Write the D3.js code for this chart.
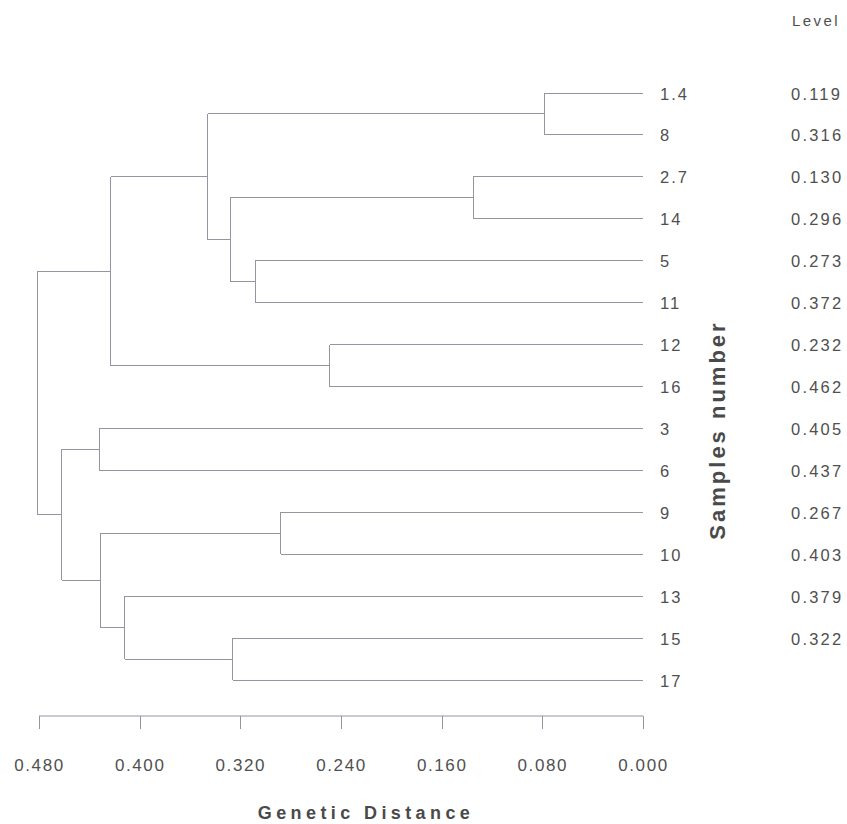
<!DOCTYPE html>
<html>
<head>
<meta charset="utf-8">
<script src="https://cdn.jsdelivr.net/npm/d3@7"></script>
<style>
  html, body { margin: 0; padding: 0; background: #fff; }
  svg { display: block; }
  text { font-family: "Liberation Sans", Arial, sans-serif; }
</style>
</head>
<body>
<script>
// ---------------- DATA ----------------
// Leaf order (top to bottom)
const leaves = ["1.4", "8", "2.7", "14", "5", "11", "12", "16", "3", "6", "9", "10", "13", "15", "17"];
// "Level" column values printed beside the leaves
const levels = [0.119, 0.316, 0.130, 0.296, 0.273, 0.372, 0.232, 0.462, 0.405, 0.437, 0.267, 0.403, 0.379, 0.322];
// Merge steps: [child A, child B, genetic distance]; "nK" refers to merge K
const merges = [
  ["1.4", "8", 0.078],   // n0
  ["2.7", "14", 0.135],  // n1
  ["12", "16", 0.249],   // n2
  ["9", "10", 0.288],    // n3
  ["5", "11", 0.308],    // n4
  ["15", "17", 0.326],   // n5
  ["n1", "n4", 0.328],   // n6
  ["n0", "n6", 0.346],   // n7
  ["13", "n5", 0.412],   // n8
  ["n7", "n2", 0.423],   // n9
  ["n3", "n8", 0.431],   // n10
  ["3", "6", 0.432],     // n11
  ["n11", "n10", 0.462], // n12
  ["n9", "n12", 0.481]   // n13 (root)
];
// Axis ticks
const tickValues = [0.48, 0.40, 0.32, 0.24, 0.16, 0.08, 0.00];
const xTitle = "Genetic Distance";
const yTitle = "Samples number";
const levelTitle = "Level";

// ---------------- LAYOUT ----------------
const W = 847, H = 824;
const lineColor = "#9494a3";
const textColor = "#505050";

const svg = d3.select("body").append("svg")
  .attr("width", W).attr("height", H)
  .attr("viewBox", `0 0 ${W} ${H}`);
svg.append("rect").attr("width", W).attr("height", H).attr("fill", "#fff");

const x = d3.scaleLinear().domain([0.48, 0]).range([39, 643]);
const y = d3.scalePoint().domain(leaves).range([93, 680]);

// Build tree from merges
const nodes = {};
leaves.forEach(l => nodes[l] = { name: l, height: 0 });
merges.forEach((m, i) => {
  nodes["n" + i] = { name: "n" + i, height: m[2], children: [nodes[m[0]], nodes[m[1]]] };
});
const rootData = nodes["n" + (merges.length - 1)];
const root = d3.hierarchy(rootData);

// positions
root.eachAfter(d => {
  d.px = x(d.data.height);
  if (!d.children) d.py = y(d.data.name);
  else d.py = d3.mean(d.children, c => c.py);
});

const g = svg.append("g")
  .attr("fill", "none")
  .attr("stroke", lineColor)
  .attr("stroke-width", 1)
  .attr("shape-rendering", "crispEdges");

// horizontal branches
g.selectAll("line.h")
  .data(root.descendants().filter(d => d.parent))
  .join("line")
  .attr("class", "h")
  .attr("x1", d => d.parent.px).attr("x2", d => d.px)
  .attr("y1", d => d.py).attr("y2", d => d.py);

// vertical connectors
g.selectAll("line.v")
  .data(root.descendants().filter(d => d.children))
  .join("line")
  .attr("class", "v")
  .attr("x1", d => d.px).attr("x2", d => d.px)
  .attr("y1", d => d3.min(d.children, c => c.py))
  .attr("y2", d => d3.max(d.children, c => c.py));

// leaf labels
svg.append("g").selectAll("text")
  .data(leaves)
  .join("text")
  .attr("x", 660)
  .attr("y", d => y(d) + 6.5)
  .attr("font-size", 16.5)
  .attr("letter-spacing", 2)
  .attr("fill", textColor)
  .text(d => d);

// level column
svg.append("text")
  .attr("x", 792).attr("y", 25.5)
  .attr("font-size", 15)
  .attr("letter-spacing", 2.4)
  .attr("fill", textColor)
  .text(levelTitle);

svg.append("g").selectAll("text")
  .data(levels)
  .join("text")
  .attr("x", 791)
  .attr("y", (d, i) => y(leaves[i]) + 6.5)
  .attr("font-size", 16.5)
  .attr("letter-spacing", 2.2)
  .attr("fill", textColor)
  .text(d => d3.format(".3f")(d));

// y title
svg.append("text")
  .attr("transform", "translate(725,430) rotate(-90)")
  .attr("text-anchor", "middle")
  .attr("font-size", 22)
  .attr("font-weight", "bold")
  .attr("letter-spacing", 3)
  .attr("fill", "#4a4a4a")
  .text(yTitle);

// x axis
const axis = d3.axisBottom(x)
  .tickValues(tickValues)
  .tickSize(13)
  .tickPadding(30)
  .tickFormat(d3.format(".3f"));

const ax = svg.append("g")
  .attr("transform", "translate(0,716)")
  .call(axis);
ax.select(".domain").attr("stroke", lineColor).attr("d", `M${x(0.48)},0H${x(0)}`);
ax.selectAll(".tick line").attr("stroke", lineColor).attr("shape-rendering", "crispEdges");
ax.selectAll(".tick text")
  .attr("font-family", "Liberation Sans, Arial, sans-serif")
  .attr("font-size", 17)
  .attr("letter-spacing", 1.6)
  .attr("fill", textColor);

// x title
svg.append("text")
  .attr("x", 366).attr("y", 819)
  .attr("text-anchor", "middle")
  .attr("font-size", 18)
  .attr("font-weight", "bold")
  .attr("letter-spacing", 4.4)
  .attr("fill", "#4a4a4a")
  .text(xTitle);
</script>
</body>
</html>
